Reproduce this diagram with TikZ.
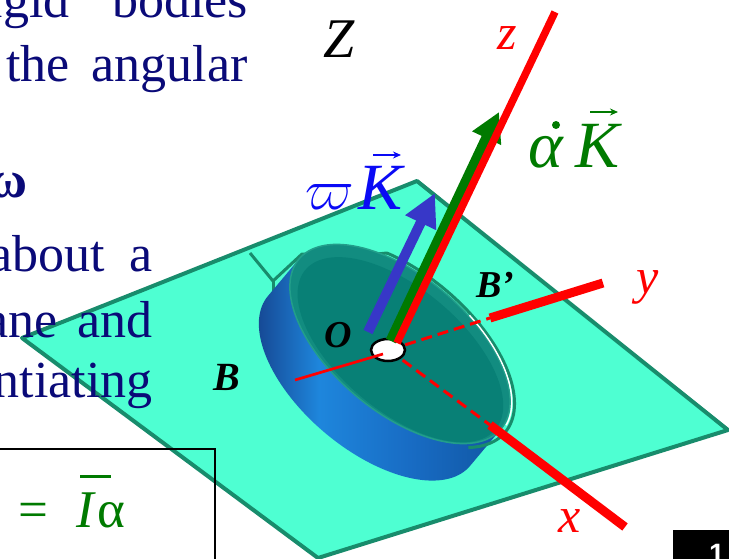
\documentclass[tikz,border=0pt]{standalone}
\usepackage{fix-cm}
\usepackage{fontspec}
\setmainfont{Liberation Serif}
\newfontfamily\pagefont{Liberation Sans}
\usetikzlibrary{arrows.meta,shapes.geometric}

\definecolor{planefill}{RGB}{78,255,210}
\definecolor{planeedge}{RGB}{24,140,108}
\definecolor{disktop}{RGB}{18,140,128}
\definecolor{diskinner}{RGB}{8,128,118}
\definecolor{diskrim}{RGB}{34,158,138}
\definecolor{navytext}{RGB}{10,10,120}
\definecolor{vecgreen}{RGB}{0,122,0}
\definecolor{vecblue}{RGB}{55,55,200}
\definecolor{lblblue}{RGB}{10,10,245}
\definecolor{sideA}{RGB}{22,74,150}
\definecolor{sideB}{RGB}{30,134,220}
\definecolor{sideC}{RGB}{24,108,196}
\definecolor{sideD}{RGB}{16,84,160}
\pgfdeclarehorizontalshading{diskside}{100bp}{color(0bp)=(sideA); color(25bp)=(sideA); color(37bp)=(sideB); color(55bp)=(sideC); color(75bp)=(sideD); color(100bp)=(sideD)}

\begin{document}
\begin{tikzpicture}[x=1pt,y=-1pt,
  txt/.style={inner sep=0pt, text=navytext, font=\fontsize{52}{54}\selectfont},
  axislbl/.style={inner sep=0pt, text=red, font=\fontsize{50}{52}\selectfont\itshape},
  ptlbl/.style={inner sep=0pt, text=black, font=\fontsize{38}{40}\selectfont\bfseries\itshape},
  eqtxt/.style={inner sep=0pt, text=vecgreen, font=\fontsize{53}{55}\selectfont},
  veclbl/.style={inner sep=0pt, font=\fontsize{66}{68}\selectfont\itshape},
  thickaxis/.style={red, line width=9pt},
  dashaxis/.style={red, line width=3pt, dash pattern=on 11pt off 6pt},
  thinaxis/.style={red, line width=2.7pt},
  overarrow/.style={line width=2.2pt, -{Stealth[length=8pt,width=7pt]}},
  holeedge/.style={planeedge, line width=3pt, line join=round},
]
\clip (0,0) rectangle (729,559);

% tilted plane
\coordinate (PL) at (22,338);
\coordinate (PT) at (417,181);
\coordinate (PR) at (728,430);
\coordinate (PB) at (318,558);
\filldraw[fill=planefill, draw=planeedge, line width=4pt, line join=round]
  (PL) -- (PT) -- (PR) -- (PB) -- cycle;
\draw[holeedge] (250,253) -- (273,281) -- (302,254) -- (357,256) -- (387,253);
\draw[holeedge] (273,281) -- (273,296);

% slide text
\node[txt, anchor=base east] (t1a) at (70,18) {igid};
\node[txt, anchor=base east] (t1b) at (248,18) {bodies};
\node[txt, anchor=base east] (t2a) at (70,82) {the};
\node[txt, anchor=base east] (t2b) at (248,82) {angular};
\node[txt, anchor=base east, font=\fontsize{52}{54}\selectfont\bfseries] (t3) at (28,197) {ω};
\node[txt, anchor=base east] (t4a) at (105,272) {about};
\node[txt, anchor=base east] (t4b) at (153,272) {a};
\node[txt, anchor=base east] (t5a) at (58,337) {ane};
\node[txt, anchor=base east] (t5b) at (153,337) {and};
\node[txt, anchor=base east] (t6) at (153,397) {ntiating};

% the disk, in its own frame (x along the long axis, y along the short axis)
\begin{scope}[shift={(400,344)}, x={(101.1pt,-84.9pt)}, y={(43.7pt,52.1pt)}]
  \shade[shading=diskside] (-1,0)
    -- plot[domain=180:360, samples=72] ({cos(\x)},{sin(\x)-0.71})
    -- (1,0)
    -- plot[domain=0:180, samples=72] ({cos(\x)},{sin(\x)}) -- cycle;
  \fill[disktop] plot[domain=0:360, samples=120] ({cos(\x)},{sin(\x)}) -- cycle;
  \fill[diskinner] plot[domain=0:360, samples=120] ({0.94*cos(\x)+0.03},{0.9*sin(\x)-0.06}) -- cycle;
  \draw[diskrim, line width=1.5pt] plot[domain=0:360, samples=120] ({cos(\x)},{sin(\x)}) -- cycle;
  \draw[holeedge] plot[domain=-30:120, samples=60] ({1.04*cos(\x)},{1.04*sin(\x)});
  \draw[white, line width=1.4pt] plot[domain=5:75, samples=30] ({1.015*cos(\x)},{1.015*sin(\x)});
\end{scope}

% body axes
\coordinate (O) at (389,350);
\coordinate (Ya) at (490,318);
\coordinate (Ye) at (603,283);
\coordinate (Xa) at (490,425);
\coordinate (Xe) at (625,527);
\coordinate (Bs) at (383,354);
\coordinate (Bm) at (295,380);
\coordinate (Zb) at (397,343);
\coordinate (Ze) at (555,12);
\coordinate (Gb) at (391,341);
\coordinate (Gt) at (499,112);
\coordinate (Wb) at (368,332);
\coordinate (Wt) at (435,193);

\draw[dashaxis] (O) -- (Ya);
\draw[dashaxis] (O) -- (Xa);
\draw[thickaxis] (Ya) -- (Ye);
\draw[thickaxis] (Xa) -- (Xe);
\node[draw=black, fill=white, line width=2.5pt, ellipse, minimum width=34pt,
      minimum height=22pt, inner sep=0pt] (o) at (388,350) {};
\draw[thinaxis] (Bs) -- (Bm);

% angular velocity vectors
\draw[vecgreen, line width=11pt, -{Triangle[length=29pt,width=30pt]}] (Gb) -- (Gt);
\draw[red, line width=7.5pt] (Zb) -- (Ze);
\draw[vecblue, line width=10pt, -{Triangle[length=33pt,width=32pt]}] (Wb) -- (Wt);

% labels
\node[inner sep=0pt, anchor=base west, font=\fontsize{56}{58}\selectfont\itshape] (Zl) at (323,58) {Z};
\node[axislbl, anchor=base west] (zl) at (497,50) {z};
\node[axislbl, anchor=base west] (yl) at (636,293) {y};
\node[axislbl, anchor=base west] (xl) at (558,532) {x};
\node[ptlbl, anchor=base west] (Ol) at (324,347) {O};
\node[ptlbl, anchor=base west] (B2l) at (476,298) {B’};
\node[ptlbl, anchor=base west, font=\fontsize{40}{42}\selectfont\bfseries\itshape] (Bl) at (213,390) {B};

\node[inner sep=0pt, anchor=base west, text=lblblue, font=\fontsize{58}{60}\selectfont] (wl) at (305,210) {$\varpi$};
\node[veclbl, text=lblblue, anchor=base west] (kw) at (358,210) {K};
\draw[lblblue, overarrow] (373,155) -- (401,155);

\node[veclbl, text=vecgreen, anchor=base west] (al) at (528,168) {α};
\fill[vecgreen] (556,125) circle (4);
\node[veclbl, text=vecgreen, anchor=base west] (ka) at (575,168) {K};
\draw[vecgreen, overarrow] (590,112) -- (618,112);

% equation box
\draw[black, line width=1.5pt] (-10,449) rectangle (215,580);
\node[eqtxt, anchor=base west] (eq) at (18,527) {=};
\node[eqtxt, anchor=base west, font=\fontsize{53}{55}\selectfont\itshape] (Ib) at (76,527) {I};
\draw[vecgreen, line width=3pt] (80,476) -- (111,476);
\node[eqtxt, anchor=base west] (a2) at (97,527) {α};

% page number tab
\fill[black] (673,530) rectangle (740,570);
\node[inner sep=0pt, anchor=base west, text=white, font=\pagefont\bfseries\fontsize{28}{30}\selectfont] (pg) at (709,563) {1};
\end{tikzpicture}
\end{document}
